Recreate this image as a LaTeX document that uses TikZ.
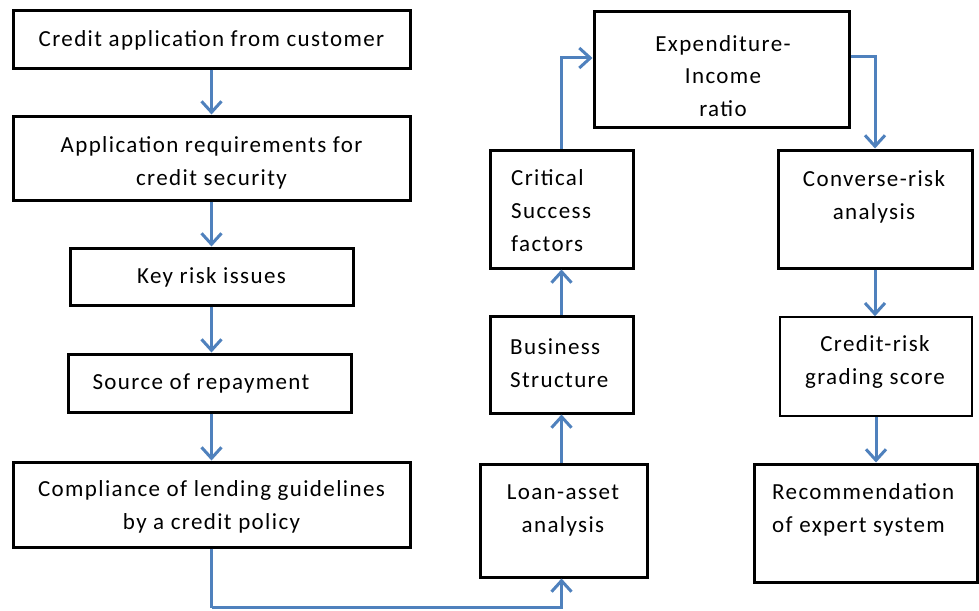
\documentclass[tikz,border=0pt]{standalone}
\usepackage{fontspec}
\setmainfont{Carlito}[LetterSpace=6]
\usetikzlibrary{arrows.meta}
\definecolor{flowblue}{HTML}{4F81BD}
\begin{document}
\begin{tikzpicture}[x=1pt,y=-1pt,
  box/.style={draw=black,line width=3pt,minimum width=#1,inner sep=0pt},
  thinbox/.style={draw=black,line width=1.5pt,minimum width=#1,inner sep=0pt},
  lbl/.style={font=\fontsize{23}{33}\selectfont,align=center,inner sep=0pt},
  lbll/.style={font=\fontsize{23}{33}\selectfont,align=left,inner sep=0pt},
  arr/.style={draw=flowblue,line width=3pt,-{Straight Barb[length=11pt,width=20pt]}},
  link/.style={draw=flowblue,line width=3pt}]
\useasboundingbox[fill=white] (0,0) rectangle (979,610);

% left column
\node[box=397pt,minimum height=57pt] (b1) at (211.5,39.5) {};
\node[box=397pt,minimum height=84pt] (b2) at (211.5,158) {};
\node[box=283pt,minimum height=57pt] (b3) at (211.5,276.5) {};
\node[box=283pt,minimum height=58pt] (b4) at (209.5,383) {};
\node[box=397pt,minimum height=85pt] (b5) at (211.5,504.5) {};

\node[lbl] (t1) at (211.5,40) {Credit application from customer};
\node[lbl] (t2) at (211.5,163) {Application requirements for\\credit security};
\node[lbl] (t3) at (211.5,277) {Key risk issues};
\node[lbl] (t4) at (201,383) {Source of repayment};
\node[lbl] (t5) at (211.5,507) {Compliance of lending guidelines\\by a credit policy};

% middle column
\node[box=167pt,minimum height=113pt] (loan) at (563.5,520.5) {};
\node[box=143pt,minimum height=97pt] (bus) at (561.5,364.5) {};
\node[box=143pt,minimum height=118pt] (crit) at (561.5,209) {};
\node[box=255pt,minimum height=115pt] (exp) at (721.5,69.5) {};

\node[lbl] (tl) at (563,510) {Loan-asset\\analysis};
\node[lbll,anchor=west] (tb) at (510,363) {Business\\Structure};
\node[lbll,anchor=west] (tc) at (511,211) {Critical\\Success\\factors};
\node[lbl,font=\fontsize{23}{32.5}\selectfont] (te) at (723,76) {Expenditure-\\Income\\ratio};

% right column
\node[box=194pt,minimum height=118pt] (conv) at (875,209) {};
\node[thinbox=192pt,minimum height=99pt] (grade) at (876,366.5) {};
\node[box=223pt,minimum height=118pt] (rec) at (865.5,523) {};

\node[lbl] (tv) at (874,196.5) {Converse-risk\\analysis};
\node[lbl] (tg) at (875,361.5) {Credit-risk\\grading score};
\node[lbll,anchor=west] (tr) at (772,510) {Recommendation\\of expert system};

% connectors
\draw[arr] (b1.south) -- (b2.north);
\draw[arr] (b2.south) -- (b3.north);
\draw[arr] (b3.south) -- (b3.south |- b4.north);
\draw[arr] (b4.south -| b5.north) -- (b5.north);
\coordinate (low) at (211.5,607.5);
\draw[link] (b5.south) -- (low);
\draw[arr] (low) -| (loan.south -| bus.south);
\draw[arr] (loan.north -| bus.south) -- (bus.north |- bus.south);
\draw[arr] (bus.north) -- (crit.south);
\draw[arr] (crit.north) |- ([yshift=11.5pt]exp.west);
\draw[arr] ([yshift=12.5pt]exp.east) -| (conv.north);
\draw[arr] (conv.south) -- (conv.south |- grade.north);
\draw[arr] (grade.south) -- (grade.south |- rec.north);
\end{tikzpicture}
\end{document}
